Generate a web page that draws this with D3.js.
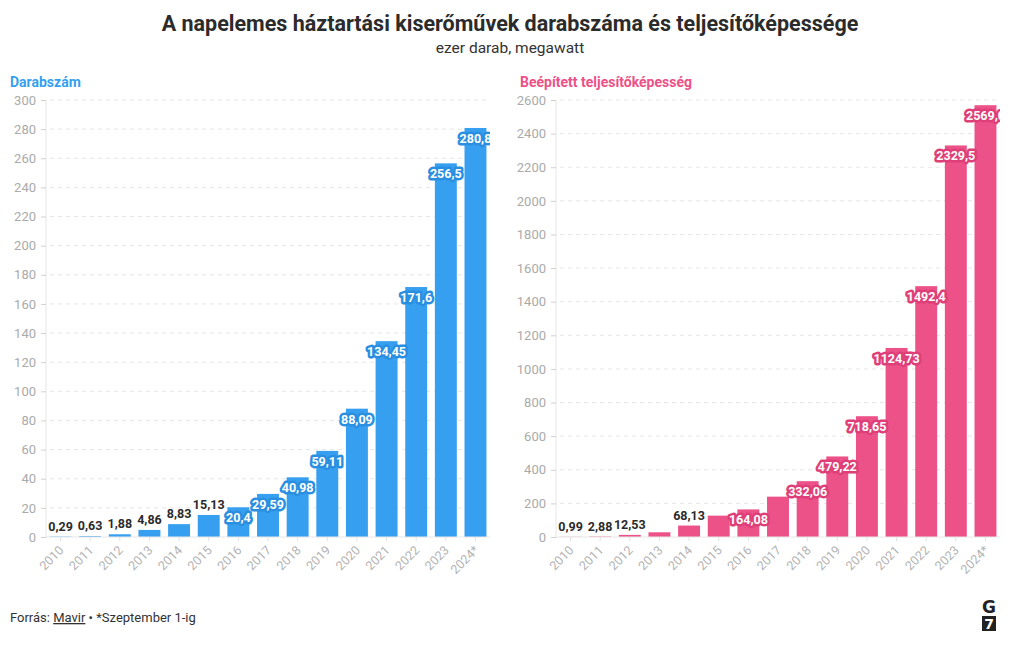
<!DOCTYPE html>
<html>
<head>
<meta charset="utf-8">
<script src="https://cdn.jsdelivr.net/npm/d3@7"></script>
<style>
  body { margin: 0; background: #fff; }
  svg { display: block; }
  text { font-family: "Roboto", "Noto Sans", sans-serif; }
</style>
</head>
<body>
<svg id="chart" width="1020" height="650"></svg>
<script>
const years = ["2010","2011","2012","2013","2014","2015","2016","2017","2018","2019","2020","2021","2022","2023","2024*"];
const countValues = [0.29,0.63,1.88,4.86,8.83,15.13,20.4,29.59,40.98,59.11,88.09,134.45,171.6,256.5,280.8];
const countLabels = ["0,29","0,63","1,88","4,86","8,83","15,13","20,4","29,59","40,98","59,11","88,09","134,45","171,6","256,5","280,8"];
const capacityValues = [0.99,2.88,12.53,28,68.13,127,164.08,240,332.06,479.22,718.65,1124.73,1492.4,2329.5,2569.0];
const capacityLabels = ["0,99","2,88","12,53",null,"68,13",null,"164,08",null,"332,06","479,22","718,65","1124,73","1492,4","2329,5","2569,0"];
const countTicks = [0,20,40,60,80,100,120,140,160,180,200,220,240,260,280,300];
const capacityTicks = [0,200,400,600,800,1000,1200,1400,1600,1800,2000,2200,2400,2600];

const svg = d3.select("#chart");

svg.append("text").attr("x", 510).attr("y", 31).attr("text-anchor", "middle")
  .attr("font-size", 21.5).attr("font-weight", "bold").attr("fill", "#2b2b2b")
  .text("A napelemes háztartási kiserőművek darabszáma és teljesítőképessége");
svg.append("text").attr("x", 510).attr("y", 53).attr("text-anchor", "middle")
  .attr("font-size", 15.5).attr("fill", "#333")
  .text("ezer darab, megawatt");

function panel(opts) {
  const g = svg.append("g");
  const y = d3.scaleLinear().domain([0, opts.max]).range([537, 100]);
  const x = d3.scaleBand().domain(years).range([opts.x0, opts.x1]).paddingInner(0.26).paddingOuter(0.12);

  const clipId = "clip" + opts.id;
  svg.append("defs").append("clipPath").attr("id", clipId)
    .append("rect").attr("x", opts.x0).attr("y", 80).attr("width", opts.x1 - opts.x0).attr("height", 470);

  g.append("text").attr("x", opts.titleX).attr("y", 87)
    .attr("font-size", 14).attr("font-weight", "bold").attr("fill", opts.color)
    .text(opts.title);

  // grid
  g.append("g").selectAll("line").data(opts.ticks.filter(d => d > 0)).join("line")
    .attr("x1", opts.x0 + 4).attr("x2", opts.x1)
    .attr("y1", d => y(d)).attr("y2", d => y(d))
    .attr("stroke", "#e6e6e6").attr("stroke-dasharray", "4,4");

  // y axis
  const ya = g.append("g").attr("transform", `translate(${opts.x0},0)`)
    .call(d3.axisLeft(y).tickValues(opts.ticks).tickSize(5).tickPadding(5).tickFormat(d3.format("d")));
  ya.select(".domain").attr("stroke", "#e6e6e6").attr("d", `M0,100V537`);
  ya.selectAll(".tick line").attr("stroke", "#d0d0d0");
  ya.selectAll(".tick text").attr("fill", "#aaa").attr("font-size", 13)
    .style("font-family", "Roboto, sans-serif");

  // bars
  g.append("g").selectAll("rect").data(opts.values).join("rect")
    .attr("x", (d, i) => x(years[i])).attr("width", x.bandwidth())
    .attr("y", d => y(d)).attr("height", d => y(0) - y(d))
    .attr("fill", opts.color);

  // x axis
  const xa = g.append("g").attr("transform", "translate(0,537)")
    .call(d3.axisBottom(x).tickSize(4).tickPadding(3));
  xa.select(".domain").attr("stroke", "#e6e6e6").attr("d", `M${opts.x0},0H${opts.x1}`);
  xa.selectAll(".tick line").attr("stroke", "#e0e0e0");
  xa.selectAll(".tick text").attr("fill", "#b3b3b3").attr("font-size", 12.5)
    .style("font-family", "Roboto, sans-serif")
    .attr("text-anchor", "end").attr("dy", null)
    .attr("transform", "translate(4,14) rotate(-45)").attr("x", 0).attr("y", 0);

  // labels
  const lg = g.append("g").attr("clip-path", `url(#${clipId})`);
  opts.values.forEach((v, i) => {
    const lab = opts.labels[i];
    if (lab == null) return;
    const cx = x(years[i]) + x.bandwidth() / 2;
    const inside = (y(0) - y(v)) > 25;
    const t = lg.append("text").attr("x", cx).attr("text-anchor", "middle")
      .attr("font-size", 12.5).attr("font-weight", "bold").text(lab);
    if (inside) {
      t.attr("y", y(v) + 15).attr("fill", "#fff")
        .attr("stroke", opts.halo).attr("stroke-width", 5).attr("stroke-linejoin", "round")
        .attr("paint-order", "stroke");
    } else {
      t.attr("y", y(v) - 6).attr("fill", "#2b2b2b");
    }
  });
}

panel({ id: "a", x0: 46, x1: 490, max: 300, ticks: countTicks, values: countValues, labels: countLabels,
        color: "#369ff0", halo: "#2a8fe0", title: "Darabszám", titleX: 10 });
panel({ id: "b", x0: 556, x1: 1000, max: 2600, ticks: capacityTicks, values: capacityValues, labels: capacityLabels,
        color: "#ec5187", halo: "#df3f78", title: "Beépített teljesítőképesség", titleX: 520 });

// footer
const f = svg.append("text").attr("x", 10).attr("y", 622).attr("font-size", 13).attr("fill", "#333");
f.append("tspan").text("Forrás: ");
f.append("tspan").attr("text-decoration", "underline").text("Mavir");
f.append("tspan").text(" • *Szeptember 1-ig");

svg.append("text").attr("x", 989).attr("y", 613).attr("text-anchor", "middle")
  .attr("font-size", 17).attr("font-weight", "bold").attr("fill", "#222")
  .style("font-family", "'DejaVu Sans', sans-serif").text("G");
svg.append("rect").attr("x", 982).attr("y", 616).attr("width", 14).attr("height", 15).attr("fill", "#222");
svg.append("text").attr("x", 989).attr("y", 629).attr("text-anchor", "middle")
  .attr("font-size", 14).attr("font-weight", "bold").attr("fill", "#fff")
  .style("font-family", "'DejaVu Sans', sans-serif").text("7");
</script>
</body>
</html>
